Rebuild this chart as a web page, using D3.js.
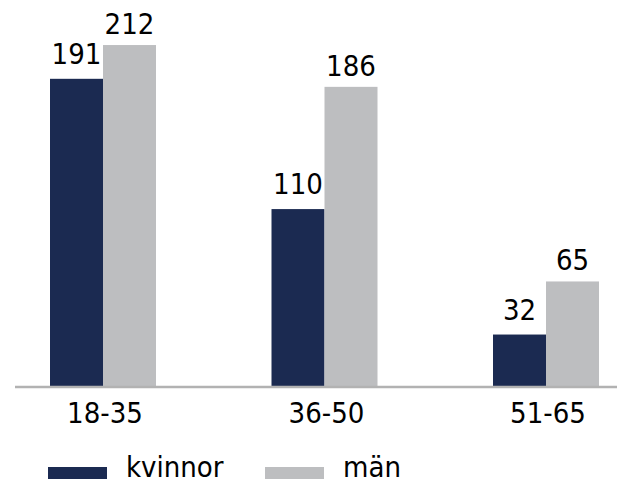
<!DOCTYPE html>
<html>
<head>
<meta charset="utf-8">
<script src="https://cdn.jsdelivr.net/npm/d3@7"></script>
<style>
  html, body { margin: 0; padding: 0; background: #fff; }
  svg { display: block; }
  text { font-family: "DejaVu Sans Condensed", "DejaVu Sans", Verdana, sans-serif; font-stretch: condensed; fill: #000; }
</style>
</head>
<body>
<svg id="chart" width="622" height="484"></svg>
<script>
const categories = ["18-35", "36-50", "51-65"];
const seriesNames = ["kvinnor", "män"];
const kvinnor = [191, 110, 32];
const man = [212, 186, 65];
const seriesColors = ["#1b2a51", "#bdbec0"];

const seriesValues = [kvinnor, man];
const data = categories.map((c, i) => ({
  cat: c,
  vals: seriesNames.map((s, j) => ({ series: s, idx: j, value: seriesValues[j][i] }))
}));

const svg = d3.select("#chart");
const baseY = 386;

const x0 = d3.scalePoint().domain(categories).range([103, 546]);
const x1 = d3.scaleBand().domain(seriesNames).range([-53, 53]);
const y = d3.scaleLinear().domain([0, 240]).range([baseY, 0]);

const groups = svg.selectAll("g.grp").data(data).enter().append("g")
  .attr("class", "grp")
  .attr("transform", d => `translate(${x0(d.cat)},0)`);

groups.selectAll("rect").data(d => d.vals).enter().append("rect")
  .attr("x", d => x1(d.series))
  .attr("width", x1.bandwidth())
  .attr("y", d => y(d.value))
  .attr("height", d => baseY - y(d.value))
  .attr("fill", d => seriesColors[d.idx]);

groups.selectAll("text.val").data(d => d.vals).enter().append("text")
  .attr("class", "val")
  .attr("x", d => x1(d.series) + x1.bandwidth() / 2)
  .attr("y", d => y(d.value) - (d.idx === 0 ? 15 : 11))
  .attr("text-anchor", "middle")
  .style("font-size", "29px")
  .text(d => d.value);

// baseline axis
svg.append("line")
  .attr("x1", 15).attr("x2", 617)
  .attr("y1", baseY + 1).attr("y2", baseY + 1)
  .attr("stroke", "#b2b2b2")
  .attr("stroke-width", 2.5);

// category labels
svg.selectAll("text.cat").data(categories).enter().append("text")
  .attr("class", "cat")
  .attr("x", d => x0(d) + 2)
  .attr("y", 423)
  .attr("text-anchor", "middle")
  .style("font-size", "29px")
  .text(d => d);

// legend
const legendX = [48, 265];
const leg = svg.selectAll("g.leg").data(seriesNames).enter().append("g")
  .attr("class", "leg")
  .attr("transform", (d, i) => `translate(${legendX[i]},0)`);
leg.append("rect")
  .attr("x", 0).attr("y", 467)
  .attr("width", 59).attr("height", 12)
  .attr("fill", (d, i) => seriesColors[i]);
leg.append("text")
  .attr("x", 78).attr("y", 477)
  .style("font-size", "29px")
  .text(d => d);
</script>
</body>
</html>
